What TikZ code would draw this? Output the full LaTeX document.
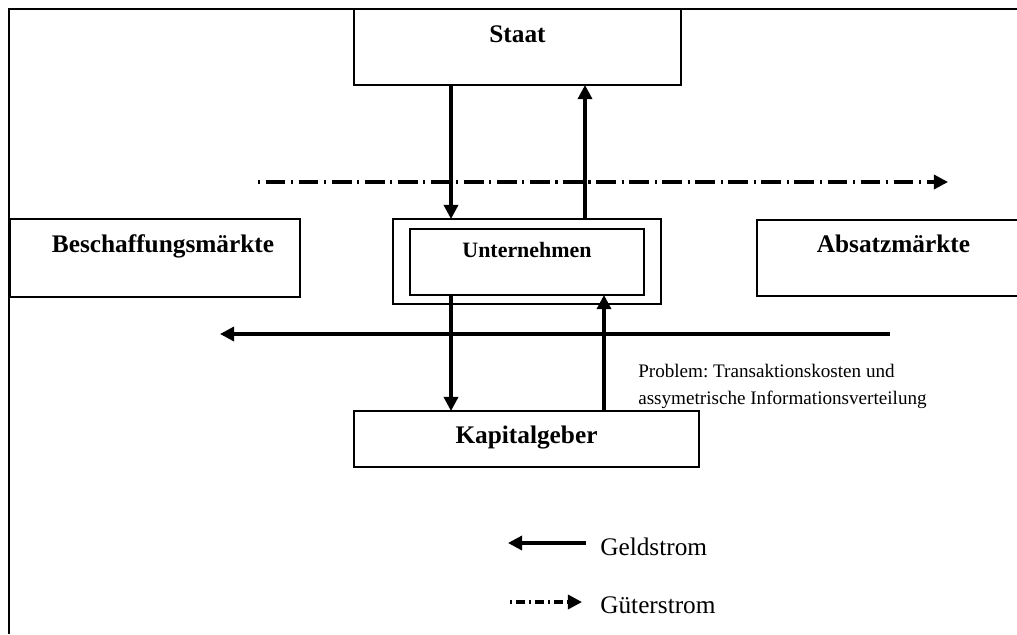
\documentclass[tikz,border=0pt]{standalone}
\usepackage{fontspec}
\setmainfont{Liberation Serif}
\usepackage{tikz}
\usetikzlibrary{arrows.meta}
\usetikzlibrary{positioning}

\tikzset{
  box/.style={draw, line width=1.1pt, inner sep=0pt, outer sep=0pt, font=\fontsize{18}{20}\selectfont\bfseries},
  money/.style={line width=2.3pt, -{Triangle[length=10pt,width=10pt]}},
  goods/.style={money, dash pattern=on 1.5pt off 4pt on 14pt off 4pt},
  smallgoods/.style={money, dash pattern=on 1.5pt off 3pt on 6pt off 3pt},
  legend/.style={anchor=base west, inner sep=0pt, font=\fontsize{18}{20}\selectfont},
}

\begin{document}
\begin{tikzpicture}[x=0.025cm, y=-0.025cm]
\useasboundingbox (0,0) rectangle (1017,634);
% frame
\draw[line width=1.1pt] (9,634) -- (9,9) -- (1017,9);
% boxes
\node[box, minimum width=8.175cm, text height=0.825cm, text depth=1.075cm] (staat) at (517.5,47) {Staat};
\node[box, minimum width=7.25cm, text height=0.825cm, text depth=1.125cm] (beschaffung) at (155,258) {\hspace*{0.4cm}Beschaffungsmärkte};
\node[box, minimum width=6.7cm, minimum height=2.125cm] (untern) at (527,261.5) {};
\node[box, minimum width=5.85cm, text height=0.7cm, text depth=0.95cm, font=\fontsize{15.6}{18}\selectfont\bfseries] (unternin) at (527,262) {Unternehmen};
\node[box, minimum width=6.825cm, text height=0.8cm, text depth=1.1cm] (absatz) at (893.5,258) {Absatzmärkte};
\node[box, minimum width=8.625cm, text height=0.8cm, text depth=0.6cm] (kapital) at (526.5,439) {Kapitalgeber};
\node[anchor=base west, inner sep=0pt, align=left, font=\fontsize{13.6}{18.5}\selectfont\frenchspacing] (problem) at (638,404) {Problem: Transaktionskosten und\\assymetrische Informationsverteilung};
% flows
\draw[money] (451,0 |- staat.south) -- (451,0 |- untern.north);
\draw[money] (585,0 |- untern.north) -- (585,0 |- staat.south);
\draw[money] (451,0 |- unternin.south) -- (451,0 |- kapital.north);
\draw[money] (604,0 |- kapital.north) -- (604,0 |- unternin.south);
\coordinate (gs) at (258,182);
\coordinate (ge) at (948,182);
\draw[goods] (gs) -- (ge);
\coordinate (ms) at (890,334);
\coordinate (me) at (220,334);
\draw[money] (ms) -- (me);
% legend
\node[legend] (geld) at (600,555) {Geldstrom};
\node[legend] (gueter) at (600,613) {Güterstrom};
\coordinate (lg1) at (586,543);
\coordinate (lg2) at (508,543);
\coordinate (lg3) at (510,602);
\coordinate (lg4) at (582,602);
\draw[money] (lg1) -- (lg2);
\draw[smallgoods] (lg3) -- (lg4);
\end{tikzpicture}
\end{document}
